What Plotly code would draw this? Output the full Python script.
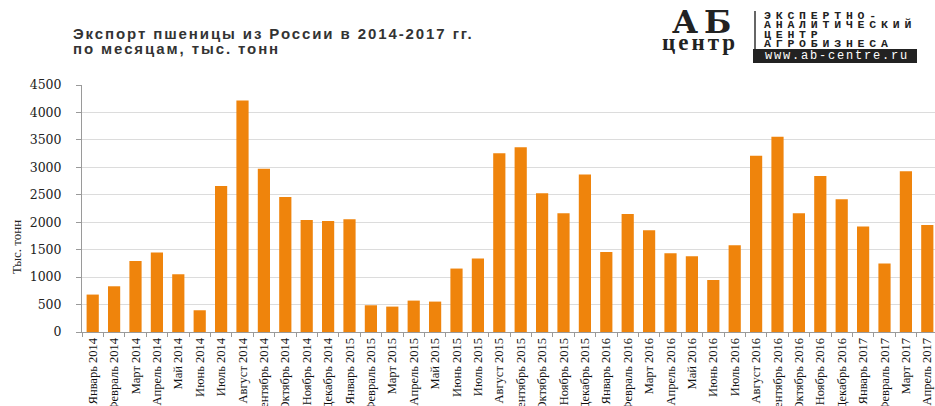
import plotly.graph_objects as go

months = ["Январь", "Февраль", "Март", "Апрель", "Май", "Июнь", "Июль", "Август",
          "Сентябрь", "Октябрь", "Ноябрь", "Декабрь"]
categories = []
for y in [2014, 2015, 2016]:
    for m in months:
        categories.append(f"{m} {y}")
categories += ["Январь 2017", "Февраль 2017", "Март 2017", "Апрель 2017"]

values = [682, 833, 1294, 1447, 1052, 396, 2662, 4219, 2972, 2461, 2042, 2024,
          2055, 487, 463, 572, 554, 1156, 1338, 3258, 3367, 2529, 2164, 2870,
          1459, 2151, 1854, 1435, 1380, 948, 1581, 3209, 3555, 2164, 2844, 2419,
          1921, 1247, 2930, 1951]

y_ticks = [0, 500, 1000, 1500, 2000, 2500, 3000, 3500, 4000, 4500]

title_lines = ["Экспорт пшеницы из России в 2014-2017 гг.", "по месяцам, тыс. тонн"]
y_title = "Тыс. тонн"
logo_big = "АБ"
logo_small = "центр"
logo_lines = ["ЭКСПЕРТНО-", "АНАЛИТИЧЕСКИЙ", "ЦЕНТР", "АГРОБИЗНЕСА"]
logo_url = "www.ab-centre.ru"

L, T, B, W, H = 82, 85, 332, 935, 406
PW = W - L
PH = B - T

def px_x(px):
    return (px - L) / PW

def px_y(py):
    return (B - py) / PH

fig = go.Figure()
fig.add_trace(go.Bar(x=categories, y=values, marker_color="#EF840C",
                     marker_line_width=0))

fig.update_layout(
    width=W, height=H,
    margin=dict(l=L, r=0, t=T, b=H - B, autoexpand=False),
    paper_bgcolor="white", plot_bgcolor="white",
    bargap=0.43, showlegend=False,
    xaxis=dict(
        type="category", range=[-0.5, 39.36], automargin=False,
        showline=True, linecolor="#9a9a9a", linewidth=1,
        ticks="outside", tickson="boundaries", ticklen=4, tickcolor="#9a9a9a",
        tickangle=-90, showgrid=False,
        tickfont=dict(family="Liberation Serif", size=12.5, color="#111"),
    ),
    yaxis=dict(
        range=[0, 4500], tickvals=y_ticks, automargin=False,
        showline=True, linecolor="#9a9a9a", linewidth=1,
        ticks="outside", ticklen=5, tickcolor="#9a9a9a",
        gridcolor="#dcdcdc", gridwidth=1, zeroline=False,
        tickfont=dict(family="DejaVu Serif", size=12.5, color="#222"),
        ticklabelstandoff=12,
    ),
)

# title
for i, line in enumerate(title_lines):
    fig.add_annotation(text=f'<b><span style="letter-spacing:1.9px">{line}</span></b>',
                       xref="paper", yref="paper",
                       x=px_x(71), y=px_y(33 + i * 15), xanchor="left", yanchor="middle",
                       align="left", showarrow=False,
                       font=dict(family="Liberation Sans", size=15, color="#333"))
# y title
fig.add_annotation(text=y_title, xref="paper", yref="paper",
                   x=px_x(16), y=px_y(247), xanchor="center", yanchor="middle",
                   textangle=-90, showarrow=False,
                   font=dict(family="Liberation Serif", size=13, color="#222"))

# logo
fig.add_annotation(text=f'<b><span style="letter-spacing:6px">{logo_big}</span></b>',
                   xref="paper", yref="paper", x=px_x(704), y=px_y(22),
                   xanchor="center", yanchor="middle", showarrow=False,
                   font=dict(family="DejaVu Serif", size=32, color="#222"))
fig.add_annotation(text=f'<b><span style="letter-spacing:3px">{logo_small}</span></b>',
                   xref="paper", yref="paper", x=px_x(700), y=px_y(42),
                   xanchor="center", yanchor="middle", showarrow=False,
                   font=dict(family="Liberation Serif", size=23, color="#222"))
for i, line in enumerate(logo_lines):
    fig.add_annotation(text=f'<b><span style="letter-spacing:4.8px">{line}</span></b>',
                       xref="paper", yref="paper", x=px_x(762), y=px_y(15.5 + i * 9.4),
                       xanchor="left", yanchor="middle", showarrow=False,
                       font=dict(family="Liberation Mono", size=11.5, color="#222"))
fig.add_shape(type="line", xref="paper", yref="paper", x0=px_x(755), x1=px_x(755),
              y0=px_y(11), y1=px_y(50), line=dict(color="#333", width=1.5))
fig.add_shape(type="rect", xref="paper", yref="paper", x0=px_x(753), x1=px_x(917),
              y0=px_y(49), y1=px_y(63), fillcolor="#222", line=dict(width=0))
fig.add_annotation(text=f'<span style="letter-spacing:1.8px">{logo_url}</span>',
                   xref="paper", yref="paper", x=px_x(763), y=px_y(56),
                   xanchor="left", yanchor="middle", showarrow=False,
                   font=dict(family="Liberation Mono", size=12, color="white"))

fig.write_html("out.html", config={"displayModeBar": False},
               post_script="document.body.style.margin='0';document.body.style.overflow='hidden';")
